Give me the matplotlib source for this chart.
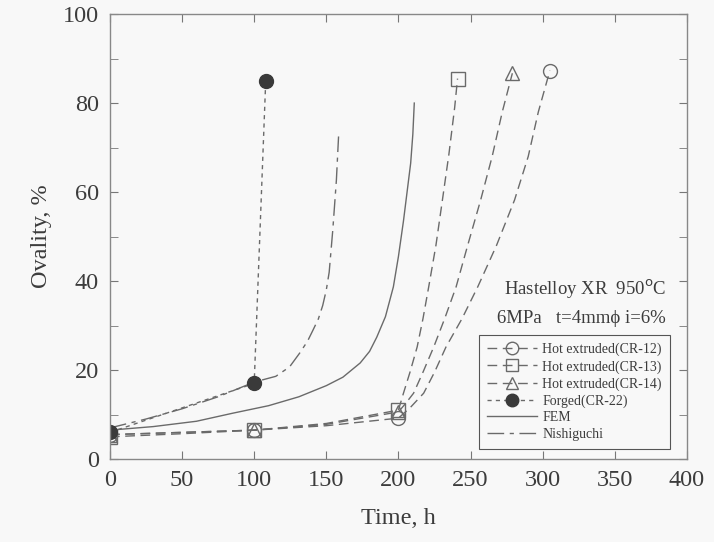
import matplotlib
matplotlib.use("Agg")
import matplotlib.pyplot as plt
from matplotlib.ticker import MultipleLocator
from matplotlib.lines import Line2D

plt.rcParams['font.family'] = ['Liberation Serif', 'DejaVu Serif']

# ---- data ----
cr12_t = [0, 100, 200, 305]
cr12_v = [5.5, 6.5, 9.2, 87.3]
cr13_t = [0, 100, 200, 241]
cr13_v = [5.0, 6.5, 11.0, 85.5]
cr14_t = [0, 100, 200, 279]
cr14_v = [5.5, 6.5, 10.6, 86.7]
cr22_t = [0, 100, 108]
cr22_v = [6.0, 17.0, 85.0]

cr12_curve_t = [0, 50, 100, 150, 200, 208, 217.5, 225, 233, 244, 255, 268, 280.5, 290, 297, 305]
cr12_curve_v = [5.5, 6.0, 6.5, 7.5, 9.2, 11.5, 14.8, 19.5, 25.2, 31.5, 38.7, 48.0, 58.2, 68.0, 78.0, 87.3]
cr13_curve_t = [0, 50, 100, 150, 200, 203.5, 208, 213, 217, 221, 226, 230.5, 235, 239, 241]
cr13_curve_v = [5.0, 5.7, 6.5, 8.0, 11.0, 14.8, 19.5, 25.2, 31.5, 38.7, 48.0, 58.2, 68.5, 79.0, 85.5]
cr14_curve_t = [0, 50, 100, 150, 200, 205, 210.5, 217, 224.5, 232, 240, 248, 257, 265, 272, 279]
cr14_curve_v = [5.5, 6.0, 6.5, 7.8, 10.6, 12.5, 14.8, 19.5, 25.2, 31.5, 38.7, 48.0, 58.2, 68.0, 78.0, 86.7]

fem_t = [0, 30, 60, 85, 110, 131, 150, 161.5, 173.5, 180, 185, 191, 196.5, 200, 203.5, 206, 208.5, 210, 211]
fem_v = [6.5, 7.3, 8.5, 10.3, 12.0, 14.0, 16.5, 18.4, 21.6, 24.2, 27.4, 32.0, 38.7, 45.5, 53.5, 60.0, 66.5, 73.0, 80.0]

nishi_t = [0, 25, 50, 75, 100, 115, 124.5, 131.5, 137, 140.5, 144.5, 147.5, 150, 152, 154.5, 157, 158.5]
nishi_v = [7.0, 9.0, 11.3, 14.0, 17.3, 18.6, 20.7, 23.8, 26.5, 28.8, 31.5, 34.5, 38.0, 42.0, 51.5, 62.7, 72.5]

labels = ['Hot extruded(CR-12)', 'Hot extruded(CR-13)', 'Hot extruded(CR-14)',
          'Forged(CR-22)', 'FEM', 'Nishiguchi']
x_ticks = [0, 50, 100, 150, 200, 250, 300, 350, 400]
y_ticks = [0, 20, 40, 60, 80, 100]

LC = '#6a6a6a'
TC = '#3c3c3c'
BG = '#f8f8f8'

fig = plt.figure(figsize=(7.14, 5.42), dpi=100, facecolor=BG)
ax = fig.add_axes([0.154, 0.153, 0.808, 0.821], facecolor=BG)

dash = (0, (7, 4))
ms = 10

# curves
ax.plot(cr12_curve_t, cr12_curve_v, color=LC, lw=1.0, ls=dash)
ax.plot(cr13_curve_t, cr13_curve_v, color=LC, lw=1.0, ls=dash)
ax.plot(cr14_curve_t, cr14_curve_v, color=LC, lw=1.0, ls=dash)
ax.plot(cr22_t, cr22_v, color=LC, lw=1.0, ls=(0, (3, 3)))
ax.plot(fem_t, fem_v, color=LC, lw=1.0, ls='-')
ax.plot(nishi_t, nishi_v, color=LC, lw=1.0, ls=(0, (12, 4, 3, 4)))

# markers
ax.plot(cr12_t, cr12_v, ls='none', marker='o', ms=ms, mfc='none', mec=LC, mew=1.0)
ax.plot(cr13_t, cr13_v, ls='none', marker='s', ms=ms, mfc='none', mec=LC, mew=1.0)
ax.plot(cr14_t, cr14_v, ls='none', marker='^', ms=ms, mfc='none', mec=LC, mew=1.0)
ax.plot(cr22_t, cr22_v, ls='none', marker='o', ms=ms, mfc='#3a3a3a', mec='#3a3a3a')

# legend handles
handles = [
    Line2D([], [], color=LC, lw=1.0, ls=dash, marker='o', ms=9, mfc='none', mec=LC),
    Line2D([], [], color=LC, lw=1.0, ls=dash, marker='s', ms=9, mfc='none', mec=LC),
    Line2D([], [], color=LC, lw=1.0, ls=dash, marker='^', ms=8, mfc='none', mec=LC),
    Line2D([], [], color=LC, lw=1.0, ls=(0, (3, 3)), marker='o', ms=9, mfc='#3a3a3a', mec='#3a3a3a'),
    Line2D([], [], color=LC, lw=1.0, ls='-'),
    Line2D([], [], color=LC, lw=1.0, ls=(0, (12, 4, 3, 4))),
]
leg = ax.legend(handles, labels, loc='lower right', bbox_to_anchor=(0.982, 0.008),
                fontsize=10, frameon=True, fancybox=False, edgecolor='#555555',
                facecolor=BG, framealpha=1, handlelength=3.6, handletextpad=0.4,
                labelspacing=0.26, borderpad=0.55, labelcolor=TC)
leg.get_frame().set_linewidth(0.8)

ax.text(0.964, 0.382, 'Hastelloy XR  950$^{\\mathrm{o}}$C', transform=ax.transAxes,
        ha='right', va='center', fontsize=13.5, color=TC)
ax.text(0.964, 0.316, '6MPa   t=4mm\u03d5 i=6%', transform=ax.transAxes,
        ha='right', va='center', fontsize=13.5, color=TC)

ax.set_xlim(0, 400)
ax.set_ylim(0, 100)
ax.set_xticks(x_ticks)
ax.set_yticks(y_ticks)
ax.yaxis.set_minor_locator(MultipleLocator(10))
ax.tick_params(which='both', direction='in', top=True, right=True,
               labelsize=17.5, colors='#777777', labelcolor=TC, pad=8)
ax.tick_params(which='major', length=6)
ax.tick_params(which='minor', length=6)
for s in ax.spines.values():
    s.set_color('#888888')
    s.set_linewidth(1.0)

ax.set_xlabel('Time, h', fontsize=17.5, color=TC, labelpad=12)
ax.set_ylabel('Ovality, %', fontsize=17.5, color=TC, labelpad=8)

fig.savefig('out.png', dpi=100, facecolor=BG)
